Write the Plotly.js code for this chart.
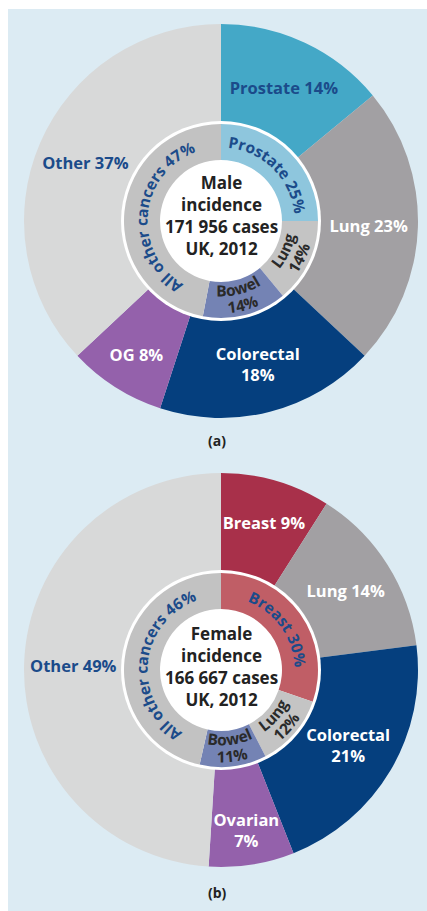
<!DOCTYPE html>
<html>
<head>
<meta charset="utf-8">
<script src="https://cdn.plot.ly/plotly-3.0.1.min.js"></script>
<style>html,body{margin:0;padding:0;background:#fff;}#chart{width:427px;height:911px;}</style>
</head>
<body>
<div id="chart"></div>
<script>
// ---- Data ----
const maleOuterLabels = ["Prostate", "Lung", "Colorectal", "OG", "Other"];
const maleOuterValues = [14, 23, 18, 8, 37];
const maleInnerLabels = ["Prostate", "Lung", "Bowel", "All other cancers"];
const maleInnerValues = [25, 14, 14, 47];
const maleTotalCases = "171 956";

const femaleOuterLabels = ["Breast", "Lung", "Colorectal", "Ovarian", "Other"];
const femaleOuterValues = [9, 14, 21, 7, 49];
const femaleInnerLabels = ["Breast", "Lung", "Bowel", "All other cancers"];
const femaleInnerValues = [30, 12, 11, 46];
const femaleTotalCases = "166 667";

const year = 2012;
const panelLabels = ["(a)", "(b)"];

// ---- Styles ----
const FONT = "'Open Sans', Roboto, 'DejaVu Sans', sans-serif";
const DARKBLUE = "#1b4b8a";
const W = 427, H = 911;
const R_OUT = 197, R_WHITE = 100, R_IN = 97, R_HOLE = 61;
const OUTER_SIZE = 16.5;

const colorMap = {
  outer: {Prostate:"#44a8c7", Lung:"#a2a0a3", Colorectal:"#053f7e", OG:"#9461ab", Ovarian:"#9461ab", Other:"#d8d9d9", Breast:"#a8304a"},
  inner: {Prostate:"#8ec6dd", Lung:"#c4c4c4", Bowel:"#7483b4", "All other cancers":"#c2c2c2", Breast:"#c05e66"}
};
const outerTextColor = {Prostate:DARKBLUE, Other:DARKBLUE};
const innerTextColor = {Prostate:DARKBLUE, Breast:DARKBLUE, "All other cancers":DARKBLUE, Lung:"#2a2a2a", Bowel:"#2a2a2a"};

function outerText(labels, values){
  return labels.map((l,i)=> l + ((l==="Colorectal"||l==="Ovarian") ? "<br>" : " ") + values[i] + "%");
}
function innerLines(label, value){
  return (label==="Lung"||label==="Bowel") ? [label, value+"%"] : [label+" "+value+"%"];
}

function px2dom(cx, cy, r){
  return {x:[(cx-r)/W, (cx+r)/W], y:[1-(cy+r)/H, 1-(cy-r)/H]};
}

function makeGroup(cx, cy, oL, oV, iL, iV){
  const outer = {
    type:"pie", values:oV, labels:oL, sort:false, direction:"clockwise", rotation:0,
    domain:px2dom(cx,cy,R_OUT), hole:0.5,
    marker:{colors:oL.map(l=>colorMap.outer[l]), line:{width:0}},
    text:outerText(oL,oV), textinfo:"text", textposition:"inside",
    insidetextorientation:"horizontal",
    textfont:{family:FONT, size:OUTER_SIZE, weight:"bold", color:oL.map(l=>outerTextColor[l]||"#ffffff")},
    hoverinfo:"skip", showlegend:false
  };
  const ring = {
    type:"pie", values:[1], labels:["ring"], sort:false,
    domain:px2dom(cx,cy,R_WHITE), hole:0,
    marker:{colors:["#ffffff"], line:{width:0}},
    textinfo:"none", hoverinfo:"skip", showlegend:false
  };
  const inner = {
    type:"pie", values:iV, labels:iL, sort:false, direction:"clockwise", rotation:0,
    domain:px2dom(cx,cy,R_IN), hole:R_HOLE/R_IN,
    marker:{colors:iL.map(l=>colorMap.inner[l]), line:{width:0}},
    textinfo:"none",
    hoverinfo:"skip", showlegend:false
  };
  return [outer, ring, inner];
}

const groups = [
  {cx:221, cy:221, iL:maleInnerLabels, iV:maleInnerValues},
  {cx:221, cy:670, iL:femaleInnerLabels, iV:femaleInnerValues}
];

const data = [].concat(
  makeGroup(221, 221, maleOuterLabels, maleOuterValues, maleInnerLabels, maleInnerValues),
  makeGroup(221, 670, femaleOuterLabels, femaleOuterValues, femaleInnerLabels, femaleInnerValues)
);

const titleFont = {family:FONT, size:17, weight:"bold", color:"#222222"};
const panelFont = {family:FONT, size:14, weight:"bold", color:"#222222"};
function ann(text, xpx, ypx, font){
  return {text:text, x:xpx/W, y:1-ypx/H, xref:"paper", yref:"paper", xanchor:"center", yanchor:"middle",
          showarrow:false, font:font};
}
const layout = {
  width:W, height:H, margin:{l:0,r:0,t:0,b:0},
  paper_bgcolor:"#ffffff", plot_bgcolor:"rgba(0,0,0,0)",
  font:{family:FONT},
  showlegend:false,
  uniformtext:{mode:"show", minsize:OUTER_SIZE},
  shapes:[{type:"rect", xref:"paper", yref:"paper", x0:8/W, x1:1, y0:0, y1:1-9/H,
           fillcolor:"#dcebf3", line:{width:0}, layer:"below"}],
  annotations:[
    ann("Male<br>incidence<br>" + maleTotalCases + " cases<br>UK, " + year, 221, 216, titleFont),
    ann("Female<br>incidence<br>" + femaleTotalCases + " cases<br>UK, " + year, 221, 666, titleFont),
    ann(panelLabels[0], 217, 440, panelFont),
    ann(panelLabels[1], 217, 892, panelFont)
  ]
};

const SVGNS = "http://www.w3.org/2000/svg";
function pt(cx, cy, r, deg){
  const a = deg*Math.PI/180;
  return [cx + r*Math.sin(a), cy - r*Math.cos(a)];
}
function addCurvedLabels(svg, g, gi){
  const grp = document.createElementNS(SVGNS, "g");
  grp.setAttribute("class", "curved-labels");
  const defs = document.createElementNS(SVGNS, "defs");
  grp.appendChild(defs);
  const sum = g.iV.reduce((a,b)=>a+b, 0);
  let cum = 0;
  g.iL.forEach((label, i)=>{
    const a0 = cum/sum*360, a1 = (cum+g.iV[i])/sum*360;
    cum += g.iV[i];
    const mid = (a0+a1)/2;
    const cw = (mid >= 270 || mid < 90);
    const lines = innerLines(label, g.iV[i]);
    let radii;
    if (lines.length === 1) radii = cw ? [73.5] : [85];
    else radii = cw ? [89, 72] : [75.5, 92.5];
    const pad = 25;
    const s = mid - (a1-a0)/2 - pad, e = mid + (a1-a0)/2 + pad;
    const t = document.createElementNS(SVGNS, "text");
    t.setAttribute("font-family", FONT);
    t.setAttribute("font-size", "15.5");
    t.setAttribute("font-weight", "bold");
    t.setAttribute("fill", innerTextColor[label] || "#2a2a2a");
    lines.forEach((txt, li)=>{
      const r = radii[li];
      const id = "arc_" + gi + "_" + i + "_" + li;
      const p0 = pt(g.cx, g.cy, r, cw ? s : e);
      const p1 = pt(g.cx, g.cy, r, cw ? e : s);
      const large = (e - s) > 180 ? 1 : 0;
      const path = document.createElementNS(SVGNS, "path");
      path.setAttribute("id", id);
      path.setAttribute("d", "M" + p0[0] + "," + p0[1] + " A" + r + "," + r + " 0 " + large + " " + (cw?1:0) + " " + p1[0] + "," + p1[1]);
      path.setAttribute("fill", "none");
      defs.appendChild(path);
      const tp = document.createElementNS(SVGNS, "textPath");
      tp.setAttribute("href", "#" + id);
      tp.setAttributeNS("http://www.w3.org/1999/xlink", "xlink:href", "#" + id);
      tp.setAttribute("startOffset", "50%");
      tp.setAttribute("text-anchor", "middle");
      tp.textContent = txt;
      t.appendChild(tp);
    });
    grp.appendChild(t);
  });
  svg.appendChild(grp);
}

Plotly.newPlot("chart", data, layout, {displayModeBar:false, staticPlot:true}).then(()=>{
  const svg = document.querySelector("#chart .main-svg");
  groups.forEach((g, gi)=> addCurvedLabels(svg, g, gi));
});
</script>
</body>
</html>
